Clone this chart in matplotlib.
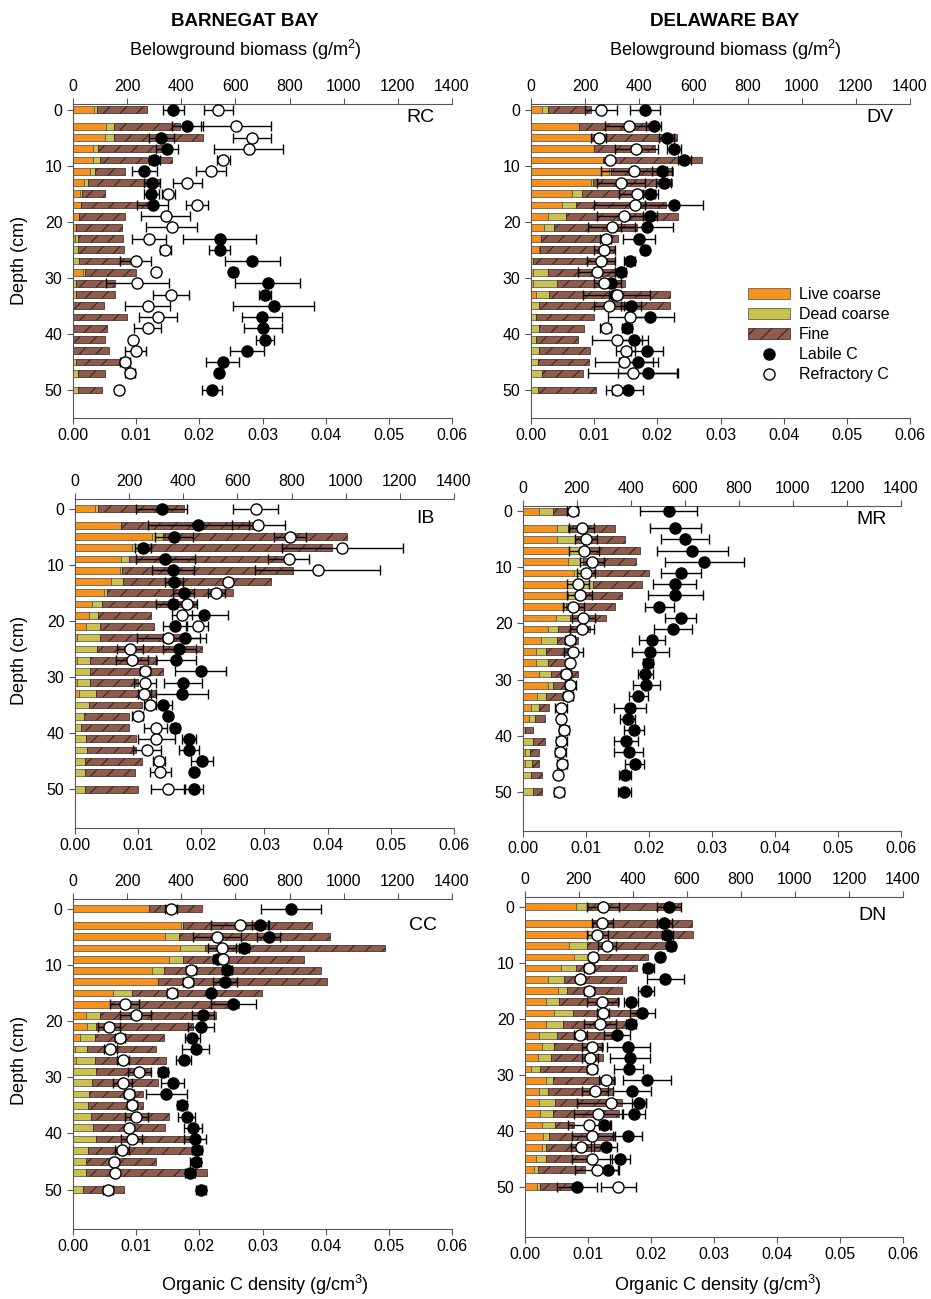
import numpy as np
import matplotlib
matplotlib.use('Agg')
import matplotlib.pyplot as plt
from matplotlib.patches import Patch
from matplotlib.lines import Line2D

plt.rcParams['font.family'] = ['Liberation Sans', 'DejaVu Sans']
plt.rcParams['hatch.linewidth'] = 0.7
plt.rcParams['mathtext.fontset'] = 'custom'
plt.rcParams['mathtext.rm'] = 'Liberation Sans'
plt.rcParams['mathtext.it'] = 'Liberation Sans:italic'
nan = np.nan

# depth of each core section (cm)
depth = [0, 3, 5, 7, 9, 11, 13, 15, 17, 19, 21, 23, 25, 27, 29, 31, 33, 35, 37, 39, 41, 43, 45, 47, 50]

# ---- RC (Barnegat Bay) ----
rc_live = [76, 123, 119, 73, 73, 64, 42, 27, 30, 22, 10, 7, 0, 0, 36, 0, 0, 0, 0, 0, 0, 0, 0, 0, 0]
rc_dead = [12, 27, 33, 18, 26, 16, 14, 7, 0, 0, 0, 10, 17, 21, 10, 12, 10, 0, 0, 0, 0, 0, 12, 17, 20]
rc_fine = [187, 246, 327, 268, 267, 112, 261, 86, 250, 170, 172, 167, 170, 191, 186, 142, 146, 113, 199, 126, 118, 134, 162, 103, 88]
rc_lab = [0.0159, 0.0181, 0.0140, 0.0149, 0.0129, 0.0113, 0.0125, 0.0124, 0.0126, nan, nan, 0.0232, 0.0232,
          0.0284, 0.0254, 0.0308, 0.0304, 0.0318, 0.0299, 0.0301, 0.0304, 0.0276, 0.0237, 0.0231, 0.0220]
rc_lab_err = [0.0016, 0.0025, 0.0020, 0.0017, 0.0008, 0.0020, 0.0013, 0.0012, 0.0024, nan, nan, 0.0058, 0.0016,
              0.0043, 0.0006, 0.0052, 0.0010, 0.0064, 0.0032, 0.0030, 0.0014, 0.0027, 0.0026, 0.0005, 0.0016]
rc_ref = [0.0230, 0.0258, 0.0283, 0.0278, 0.0238, 0.0219, 0.0181, 0.0151, 0.0196, 0.0147, 0.0156, 0.0120, 0.0146,
          0.0099, 0.0131, 0.0102, 0.0155, 0.0118, 0.0134, 0.0118, 0.0095, 0.0099, 0.0082, 0.0090, 0.0073]
rc_ref_err = [0.0023, 0.0055, 0.0030, 0.0054, 0.0010, 0.0024, 0.0023, 0.0010, 0.0017, 0.0039, 0.0040, 0.0027, 0.0009,
              0.0024, 0.0003, 0.0050, 0.0028, 0.0036, 0.0030, 0.0022, 0.0005, 0.0016, 0.0008, 0.0008, 0.0005]

# ---- DV (Delaware Bay) ----
dv_live = [39, 178, 222, 234, 267, 289, 222, 153, 113, 62, 49, 37, 30, 0, 9, 9, 17, 0, 0, 0, 0, 0, 0, 0, 0]
dv_dead = [22, 0, 0, 0, 0, 5, 7, 34, 53, 66, 37, 0, 4, 9, 55, 86, 49, 31, 17, 30, 18, 30, 27, 39, 27]
dv_fine = [160, 286, 316, 224, 366, 230, 290, 273, 332, 416, 304, 286, 273, 297, 246, 252, 448, 484, 215, 167, 154, 187, 186, 153, 212]
dv_lab = [0.0180, 0.0194, 0.0215, 0.0226, 0.0243, 0.0207, 0.0210, 0.0189, 0.0226, 0.0188, 0.0184, 0.0171, 0.0180,
          0.0156, 0.0142, 0.0127, 0.0133, 0.0158, 0.0189, 0.0152, 0.0163, 0.0184, 0.0170, 0.0185, 0.0153]
dv_lab_err = [0.0024, 0.0012, 0.0012, 0.0011, 0.0010, 0.0016, 0.0012, 0.0012, 0.0046, 0.0011, 0.0041, 0.0026, 0.0006,
              0.0008, 0.0009, 0.0016, 0.0010, 0.0016, 0.0038, 0.0008, 0.0022, 0.0025, 0.0031, 0.0048, 0.0025]
dv_ref = [0.0111, 0.0155, 0.0107, 0.0167, 0.0125, 0.0163, 0.0142, 0.0168, 0.0165, 0.0148, 0.0128, 0.0118, 0.0116,
          0.0111, 0.0104, 0.0116, 0.0136, 0.0123, 0.0157, 0.0118, 0.0136, 0.0150, 0.0147, 0.0161, 0.0136]
dv_ref_err = [0.0025, 0.0038, 0.0012, 0.0034, 0.0004, 0.0052, 0.0038, 0.0029, 0.0065, 0.0043, 0.0037, 0.0008, 0.0017,
              0.0022, 0.0029, 0.0017, 0.0053, 0.0024, 0.0035, 0.0008, 0.0040, 0.0015, 0.0046, 0.0070, 0.0018]

# ---- IB (Barnegat Bay) ----
ib_live = [74, 171, 286, 212, 171, 165, 132, 107, 63, 52, 39, 7, 0, 7, 0, 7, 15, 0, 0, 0, 0, 0, 0, 0, 0]
ib_dead = [12, 0, 39, 21, 28, 10, 46, 11, 37, 33, 54, 84, 81, 49, 57, 49, 62, 51, 32, 23, 39, 44, 36, 36, 36]
ib_fine = [318, 504, 678, 715, 606, 631, 547, 466, 349, 197, 200, 314, 389, 246, 269, 177, 222, 198, 168, 176, 187, 182, 212, 186, 197]
ib_lab = [0.0137, 0.0195, 0.0157, 0.0108, 0.0143, 0.0155, 0.0157, 0.0172, 0.0155, 0.0204, 0.0158, 0.0174, 0.0165,
          0.0160, 0.0199, 0.0171, 0.0170, 0.0139, 0.0147, 0.0158, 0.0181, 0.0180, 0.0201, 0.0188, 0.0188]
ib_lab_err = [0.0041, 0.0080, 0.0030, 0.0013, 0.0047, 0.0033, 0.0014, 0.0017, 0.0026, 0.0038, 0.0018, 0.0034, 0.0026,
              0.0032, 0.0040, 0.0030, 0.0041, 0.0015, 0.0005, 0.0006, 0.0011, 0.0016, 0.0017, 0.0003, 0.0015]
ib_ref = [0.0286, 0.0290, 0.0340, 0.0423, 0.0338, 0.0384, 0.0243, 0.0224, 0.0177, 0.0169, 0.0194, 0.0148, 0.0087,
          0.0090, 0.0111, 0.0111, 0.0110, 0.0119, 0.0099, 0.0128, 0.0129, 0.0114, 0.0133, 0.0135, 0.0147]
ib_ref_err = [0.0036, 0.0042, 0.0025, 0.0096, 0.0032, 0.0099, 0.0006, 0.0014, 0.0016, 0.0016, 0.0017, 0.0050, 0.0020,
              0.0025, 0.0008, 0.0018, 0.0010, 0.0010, 0.0008, 0.0018, 0.0030, 0.0022, 0.0009, 0.0017, 0.0027]

# ---- MR (Delaware Bay) ----
mr_live = [59, 127, 127, 169, 167, 189, 164, 167, 152, 121, 93, 68, 49, 49, 58, 93, 53, 28, 21, 6, 0, 9, 6, 0, 0]
mr_dead = [52, 40, 64, 41, 56, 70, 95, 25, 9, 52, 37, 58, 35, 43, 47, 19, 31, 30, 25, 0, 37, 16, 27, 31, 37]
mr_fine = [56, 173, 185, 225, 194, 209, 183, 174, 179, 133, 119, 78, 101, 62, 99, 80, 64, 38, 35, 31, 43, 35, 28, 41, 35]
mr_lab = [0.0231, 0.0242, 0.0257, 0.0269, 0.0288, 0.0251, 0.0241, 0.0242, 0.0216, 0.0250, 0.0238, 0.0205, 0.0202,
          0.0198, 0.0194, 0.0196, 0.0183, 0.0170, 0.0166, 0.0176, 0.0163, 0.0168, 0.0177, 0.0162, 0.0161]
mr_lab_err = [0.0045, 0.0041, 0.0038, 0.0056, 0.0062, 0.0032, 0.0034, 0.0043, 0.0023, 0.0025, 0.0030, 0.0021, 0.0029,
              0.0008, 0.0012, 0.0021, 0.0015, 0.0026, 0.0012, 0.0016, 0.0019, 0.0023, 0.0015, 0.0010, 0.0010]
mr_ref = [0.0079, 0.0093, 0.0100, 0.0097, 0.0110, 0.0100, 0.0087, 0.0090, 0.0080, 0.0096, 0.0094, 0.0074, 0.0080,
          0.0074, 0.0068, 0.0075, 0.0072, 0.0060, 0.0060, 0.0065, 0.0061, 0.0059, 0.0062, 0.0056, 0.0057]
mr_ref_err = [0.0009, 0.0020, 0.0018, 0.0024, 0.0019, 0.0015, 0.0017, 0.0020, 0.0017, 0.0018, 0.0019, 0.0008, 0.0015,
              0.0005, 0.0008, 0.0009, 0.0008, 0.0010, 0.0005, 0.0008, 0.0009, 0.0009, 0.0008, 0.0004, 0.0008]

# ---- CC (Barnegat Bay) ----
cc_live = [281, 400, 341, 396, 353, 293, 315, 148, 135, 47, 53, 25, 6, 12, 0, 0, 0, 0, 0, 0, 0, 0, 0, 0, 0]
cc_dead = [0, 6, 49, 91, 54, 43, 0, 71, 0, 52, 33, 55, 46, 69, 84, 70, 59, 55, 65, 74, 84, 55, 47, 47, 37]
cc_fine = [197, 478, 560, 667, 446, 581, 623, 478, 480, 431, 357, 255, 254, 263, 202, 245, 200, 204, 290, 265, 366, 394, 261, 448, 151]
cc_lab = [0.0345, 0.0296, 0.0310, 0.0271, 0.0230, 0.0244, 0.0240, 0.0219, 0.0254, 0.0206, 0.0203, 0.0189, 0.0194,
          0.0175, 0.0142, 0.0158, 0.0148, 0.0172, 0.0180, 0.0190, 0.0193, 0.0196, 0.0194, 0.0185, 0.0203]
cc_lab_err = [0.0047, 0.0013, 0.0018, 0.0008, 0.0008, 0.0008, 0.0019, 0.0005, 0.0035, 0.0018, 0.0021, 0.0012, 0.0022,
              0.0012, 0.0008, 0.0018, 0.0032, 0.0008, 0.0013, 0.0015, 0.0017, 0.0008, 0.0008, 0.0008, 0.0008]
cc_ref = [0.0155, 0.0264, 0.0228, 0.0236, 0.0238, 0.0187, 0.0182, 0.0157, 0.0082, 0.0099, 0.0057, 0.0074, 0.0059,
          0.0079, 0.0105, 0.0079, 0.0089, 0.0093, 0.0100, 0.0089, 0.0093, 0.0077, 0.0065, 0.0066, 0.0055]
cc_ref_err = [0.0010, 0.0046, 0.0038, 0.0022, 0.0005, 0.0008, 0.0008, 0.0008, 0.0023, 0.0024, 0.0017, 0.0008, 0.0010,
              0.0009, 0.0018, 0.0015, 0.0008, 0.0008, 0.0018, 0.0005, 0.0017, 0.0011, 0.0005, 0.0005, 0.0008]

# ---- DN (Delaware Bay) ----
dn_live = [188, 253, 232, 164, 183, 132, 86, 123, 78, 109, 78, 52, 62, 49, 22, 78, 52, 53, 56, 64, 68, 62, 40, 35, 43]
dn_dead = [44, 0, 40, 67, 52, 57, 58, 33, 49, 67, 64, 65, 47, 49, 33, 27, 35, 58, 49, 47, 22, 16, 37, 12, 12]
dn_fine = [344, 364, 351, 302, 220, 225, 230, 204, 221, 244, 265, 222, 179, 191, 177, 228, 238, 247, 243, 72, 240, 198, 173, 175, 142]
dn_lab = [0.0228, 0.0221, 0.0226, 0.0232, 0.0215, 0.0196, 0.0223, 0.0192, 0.0168, 0.0186, 0.0168, 0.0146, 0.0164,
          0.0167, 0.0165, 0.0193, 0.0170, 0.0181, 0.0173, 0.0126, 0.0164, 0.0128, 0.0151, 0.0132, 0.0083]
dn_lab_err = [0.0019, 0.0012, 0.0009, 0.0006, 0.0006, 0.0008, 0.0029, 0.0012, 0.0011, 0.0020, 0.0008, 0.0020, 0.0034,
              0.0032, 0.0023, 0.0038, 0.0030, 0.0011, 0.0018, 0.0009, 0.0021, 0.0018, 0.0016, 0.0016, 0.0032]
dn_ref = [0.0124, 0.0123, 0.0115, 0.0130, 0.0108, 0.0102, 0.0088, 0.0101, 0.0123, 0.0124, 0.0119, 0.0088, 0.0106,
          0.0103, 0.0106, 0.0129, 0.0111, 0.0137, 0.0116, 0.0102, 0.0107, 0.0089, 0.0106, 0.0114, 0.0148]
dn_ref_err = [0.0025, 0.0016, 0.0016, 0.0014, 0.0006, 0.0008, 0.0006, 0.0008, 0.0025, 0.0009, 0.0026, 0.0010, 0.0016,
              0.0013, 0.0008, 0.0012, 0.0020, 0.0055, 0.0038, 0.0034, 0.0033, 0.0016, 0.0032, 0.0035, 0.0028]

# colours
c_live = '#F5921E'
c_dead = '#C9C24F'
c_fine = '#8E5B4C'
c_axis = '#555555'

W, H = 931, 1299
fig = plt.figure(figsize=(W / 100, H / 100), dpi=100)


def box(l, t, r, b):
    # pixel box -> figure fraction
    return [l / W, 1 - b / H, (r - l) / W, (b - t) / H]


# name, pixel box, y limits, label position, data
panels = [
    ('RC', (73, 104, 452, 418), (55, -1), (420, 118), rc_live, rc_dead, rc_fine, rc_lab, rc_lab_err, rc_ref, rc_ref_err),
    ('DV', (531, 104, 910, 418), (55, -1), (880, 118), dv_live, dv_dead, dv_fine, dv_lab, dv_lab_err, dv_ref, dv_ref_err),
    ('IB', (75, 499, 454, 828), (56.9, -1.7), (425, 518), ib_live, ib_dead, ib_fine, ib_lab, ib_lab_err, ib_ref, ib_ref_err),
    ('MR', (523, 506, 901, 831), (57, -0.95), (872, 520), mr_live, mr_dead, mr_fine, mr_lab, mr_lab_err, mr_ref, mr_ref_err),
    ('CC', (73, 899, 452, 1229), (57, -1.7), (423, 925), cc_live, cc_dead, cc_fine, cc_lab, cc_lab_err, cc_ref, cc_ref_err),
    ('DN', (525, 897, 903, 1237), (59, -1.7), (873, 915), dn_live, dn_dead, dn_fine, dn_lab, dn_lab_err, dn_ref, dn_ref_err),
]

for name, bx, ylim, lab_pos, live, dead, fine, lab, lab_err, ref, ref_err in panels:
    ax = fig.add_axes(box(*bx))
    ax2 = ax.twiny()   # bottom axis for carbon density (created first, twiny resets tick sides)

    live = np.array(live)
    dead = np.array(dead)
    fine = np.array(fine)
    # stacked biomass bars on the top axis
    ax.barh(depth, live, height=1.2, color=c_live, edgecolor='#4a4a4a', linewidth=0.5, zorder=1)
    ax.barh(depth, dead, left=live, height=1.2, color=c_dead, edgecolor='#4a4a4a', linewidth=0.5, zorder=1)
    ax.barh(depth, fine, left=live + dead, height=1.2, color=c_fine, edgecolor='#2e211b',
            linewidth=0.5, hatch='//', zorder=1)
    ax.set_xlim(0, 1400)
    ax.set_ylim(*ylim)
    ax.xaxis.tick_top()
    ax.xaxis.set_label_position('top')
    ax.set_xticks(range(0, 1401, 200))
    ax.set_yticks(range(0, 51, 10))
    ax.spines['right'].set_visible(False)
    ax.spines['bottom'].set_visible(False)
    for s in ['top', 'left']:
        ax.spines[s].set_color(c_axis)
    ax.tick_params(axis='both', labelsize=11.5, color=c_axis, length=4, direction='out')

    # carbon density points on the bottom axis
    ax2.errorbar(lab, depth, xerr=lab_err, fmt='o', color='black', mfc='black', mec='black',
                 ms=8, capsize=3.5, elinewidth=1, capthick=1, zorder=3)
    ax2.errorbar(ref, depth, xerr=ref_err, fmt='o', color='black', mfc='white', mec='black',
                 ms=8, capsize=3.5, elinewidth=1, capthick=1, zorder=4)
    ax2.set_xlim(0, 0.06)
    ax2.xaxis.tick_bottom()
    ax2.xaxis.set_label_position('bottom')
    ax2.set_xticks([0, 0.01, 0.02, 0.03, 0.04, 0.05, 0.06])
    ax2.set_xticklabels(['0.00', '0.01', '0.02', '0.03', '0.04', '0.05', '0.06'])
    for s in ['top', 'left', 'right']:
        ax2.spines[s].set_visible(False)
    ax2.spines['bottom'].set_color(c_axis)
    ax2.tick_params(axis='x', labelsize=11.5, color=c_axis, length=4, direction='out')

    fig.text(lab_pos[0] / W, 1 - lab_pos[1] / H, name, fontsize=14, ha='center', va='center')

    if name == 'DV':
        handles = [Patch(facecolor=c_live, edgecolor='#4a4a4a', linewidth=0.5),
                   Patch(facecolor=c_dead, edgecolor='#4a4a4a', linewidth=0.5),
                   Patch(facecolor=c_fine, edgecolor='#2e211b', linewidth=0.5, hatch='//'),
                   Line2D([], [], marker='o', linestyle='none', mfc='black', mec='black', ms=8),
                   Line2D([], [], marker='o', linestyle='none', mfc='white', mec='black', ms=8)]
        fig.legend(handles, ['Live coarse', 'Dead coarse', 'Fine', 'Labile C', 'Refractory C'],
                   loc='upper left', bbox_to_anchor=(748 / W, 1 - 287 / H), frameon=False,
                   fontsize=11.5, handlelength=2.6, handleheight=0.7, handletextpad=0.6,
                   labelspacing=0.32, borderpad=0, borderaxespad=0)

# column titles
for xc, title in [(245, 'BARNEGAT BAY'), (725, 'DELAWARE BAY')]:
    fig.text(xc / W, 1 - 22 / H, title, fontsize=13.5, fontweight='bold', ha='center', va='center')
    fig.text(xc / W, 1 - 50 / H, 'Belowground biomass (g/m$^2$)', fontsize=13, ha='center', va='center')

# axis labels
for yc in [260, 660, 1060]:
    fig.text(20 / W, 1 - yc / H, 'Depth (cm)', fontsize=13, rotation=90, ha='center', va='center')
for xc in [265, 718]:
    fig.text(xc / W, 1 - 1285 / H, 'Organic C density (g/cm$^3$)', fontsize=13, ha='center', va='center')

fig.savefig('out.png', dpi=100)
